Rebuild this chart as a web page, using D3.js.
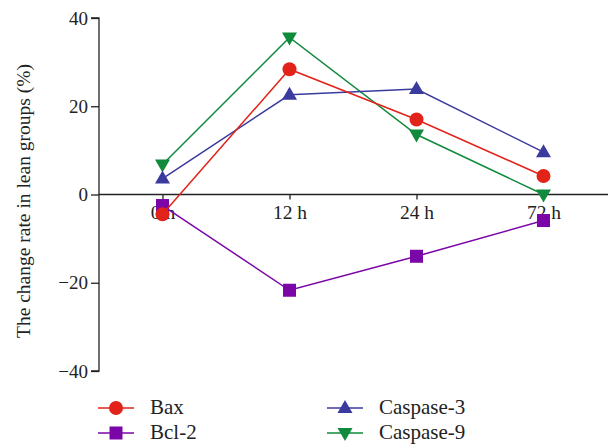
<!DOCTYPE html>
<html><head><meta charset="utf-8">
<script src="https://cdn.jsdelivr.net/npm/d3@7"></script>
<style>body{margin:0;background:#fff}svg{display:block}</style>
</head><body>
<svg id="c" width="613" height="446"></svg>
<script>
const categories = ["0 h", "12 h", "24 h", "72 h"];
const bax = [-4.5, 28.4, 17.0, 4.2];
const bcl2 = [-2.5, -21.7, -14.0, -5.9];
const casp3 = [3.6, 22.6, 23.9, 9.6];
const casp9 = [6.8, 35.6, 13.6, 0.0];
const yTicks = [-40, -20, 0, 20, 40];
const seriesNames = ["Bax", "Bcl-2", "Caspase-3", "Caspase-9"];

const series = [
  {name: seriesNames[0], values: bax, color: "#e2231a", sym: "circle"},
  {name: seriesNames[1], values: bcl2, color: "#7a06a8", sym: "square"},
  {name: seriesNames[2], values: casp3, color: "#3a3a9f", sym: "up"},
  {name: seriesNames[3], values: casp9, color: "#108a3c", sym: "down"}
];

const svg = d3.select("#c");
const font = "'Liberation Serif', 'DejaVu Serif', serif";
const x = d3.scalePoint().domain(categories).range([99, 607]).padding(0.5);
const y = d3.scaleLinear().domain([-40, 40]).range([371, 18]);

// Y axis
const yAxis = svg.append("g").attr("transform", "translate(99,0)")
  .call(d3.axisLeft(y).tickValues(yTicks).tickSize(8).tickPadding(3).tickFormat(d => d < 0 ? "\u2212" + Math.abs(d) : d));
yAxis.select(".domain").attr("stroke", "#222").attr("stroke-width", 1.3).attr("d", `M-8,${y(40)}H0V${y(-40)}H-8`);
yAxis.selectAll(".tick line").attr("stroke", "#222").attr("stroke-width", 1.3);
yAxis.selectAll("text").attr("font-family", font).attr("font-size", 19).attr("fill", "#222");

// X axis at zero
const xAxis = svg.append("g").attr("transform", `translate(0,${y(0)})`)
  .call(d3.axisBottom(x).tickSize(5).tickPadding(6));
xAxis.select(".domain").attr("stroke", "#222").attr("stroke-width", 1.3).attr("d", "M99,0H608");
xAxis.selectAll(".tick line").attr("stroke", "#222").attr("stroke-width", 1.3);
xAxis.selectAll("text").attr("font-family", font).attr("font-size", 19.5).attr("fill", "#222");

// Y title
svg.append("text")
  .attr("transform", `translate(30,201) rotate(-90)`)
  .attr("text-anchor", "middle")
  .attr("font-family", font).attr("font-size", 19.5).attr("fill", "#222")
  .text("The change rate in lean groups (%)");

function drawSym(g, sym, cx, cy, color) {
  if (sym === "circle") {
    g.append("circle").attr("cx", cx).attr("cy", cy).attr("r", 7).attr("fill", color);
  } else if (sym === "square") {
    g.append("rect").attr("x", cx - 6.5).attr("y", cy - 6.5).attr("width", 13).attr("height", 13).attr("fill", color);
  } else if (sym === "up") {
    g.append("path").attr("d", `M${cx},${cy - 8}L${cx + 7.5},${cy + 5}L${cx - 7.5},${cy + 5}Z`).attr("fill", color);
  } else {
    g.append("path").attr("d", `M${cx},${cy + 8}L${cx + 7.5},${cy - 5}L${cx - 7.5},${cy - 5}Z`).attr("fill", color);
  }
}

const line = d3.line().x((d, i) => x(categories[i])).y(d => y(d));
const drawOrder = [3, 2, 1, 0];
drawOrder.forEach(k => {
  const s = series[k];
  const g = svg.append("g");
  g.append("path").attr("d", line(s.values)).attr("fill", "none").attr("stroke", s.color).attr("stroke-width", 1.5);
  s.values.forEach((v, i) => drawSym(g, s.sym, x(categories[i]), y(v), s.color));
});

// Legend
const legendPos = [[98, 408], [98, 433], [327, 408], [327, 433]];
series.forEach((s, k) => {
  const [lx, ly] = legendPos[k];
  const g = svg.append("g");
  g.append("line").attr("x1", lx).attr("x2", lx + 36).attr("y1", ly).attr("y2", ly).attr("stroke", s.color).attr("stroke-width", 1.5);
  drawSym(g, s.sym, lx + 18, ly, s.color);
  g.append("text").attr("x", lx + 52).attr("y", ly + 6).attr("font-family", font).attr("font-size", 21).attr("fill", "#222").text(s.name);
});
</script>
</body></html>
